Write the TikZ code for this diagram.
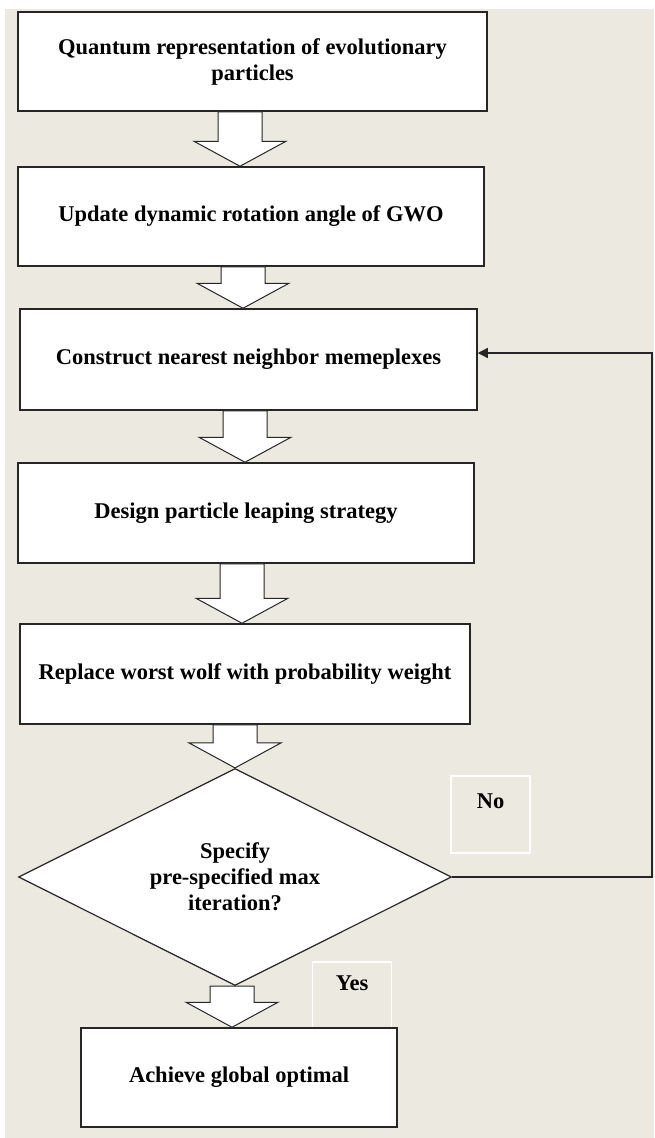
\documentclass[tikz,border=0pt]{standalone}
\usepackage{fontspec}
\setmainfont{Liberation Serif}
\usetikzlibrary{arrows.meta}
\usetikzlibrary{shapes.geometric}
\usetikzlibrary{calc}

\definecolor{paper}{RGB}{236,233,224}
\definecolor{edge}{RGB}{38,38,38}

% hollow block arrow from the bottom of #1 to the top of #2, at x = #3
\newcommand{\hollowarrow}[3]{%
  \draw[blockarr] let \p1=(#1.south), \p2=(#2.north) in
    (#3pt-22pt,\y1) -- (#3pt+22pt,\y1) -- (#3pt+22pt,\y2+25pt) -- (#3pt+46pt,\y2+25pt)
    -- (#3pt,\y2) -- (#3pt-46pt,\y2+25pt) -- (#3pt-22pt,\y2+25pt) -- cycle;}

\begin{document}
\begin{tikzpicture}[x=1pt, y=1pt,
    every node/.style={font=\bfseries\fontsize{22.5}{26}\selectfont, align=center, inner sep=0pt},
    stepbox/.style={rectangle, draw=edge, line width=1.5pt, fill=white},
    choice/.style={diamond, draw=edge, line width=1.2pt, fill=white, shape aspect=2},
    flag/.style={rectangle, draw=white, line width=1.4pt, minimum width=79pt, minimum height=77pt},
    blockarr/.style={draw=edge, line width=1pt, fill=white, line join=miter}]
    \useasboundingbox (0,0) rectangle (654,-1138);
    \fill[white] (0,0) rectangle (654,-1138);
    \fill[paper] (5,-9) rectangle (654,-1138);

    \node[stepbox, minimum width=469pt, minimum height=99pt] (quantum) at (252.5,-61.5) {Quantum representation of evolutionary\\particles};
    \node[stepbox, minimum width=466pt, minimum height=99pt] (update) at (251,-216.5) {Update dynamic rotation angle of GWO};
    \node[stepbox, minimum width=457pt, minimum height=101pt] (construct) at (248.5,-359.5) {Construct nearest neighbor memeplexes};
    \node[stepbox, minimum width=456pt, minimum height=100pt] (design) at (246,-513) {Design particle leaping strategy};
    \node[stepbox, minimum width=450pt, minimum height=100pt] (replace) at (245,-674) {Replace worst wolf with probability weight};
    \node[choice, minimum width=433pt, minimum height=217pt] (decide) at (235,-877) {Specify\\pre-specified max\\iteration?};
    \node[flag] (no) at (490.5,-814.5) {No\\ \mbox{}};
    \node[flag, minimum height=68pt] (yes) at (352,-996) {Yes\\ \mbox{}};
    \node[stepbox, minimum width=316pt, minimum height=99pt] (achieve) at (239,-1077.5) {Achieve global optimal};

    \hollowarrow{quantum}{update}{240}
    \hollowarrow{update}{construct}{243}
    \hollowarrow{construct}{design}{245}
    \hollowarrow{design}{replace}{242}
    \hollowarrow{replace}{decide}{235}
    \hollowarrow{decide}{achieve}{232}

    \coordinate (loop) at (652,-353);
    \draw[edge, line width=1.3pt, -{Triangle[length=10pt, width=10pt]}]
        (decide.east) -- (decide.east -| loop) -- (loop) -- (loop -| construct.east);
\end{tikzpicture}
\end{document}
